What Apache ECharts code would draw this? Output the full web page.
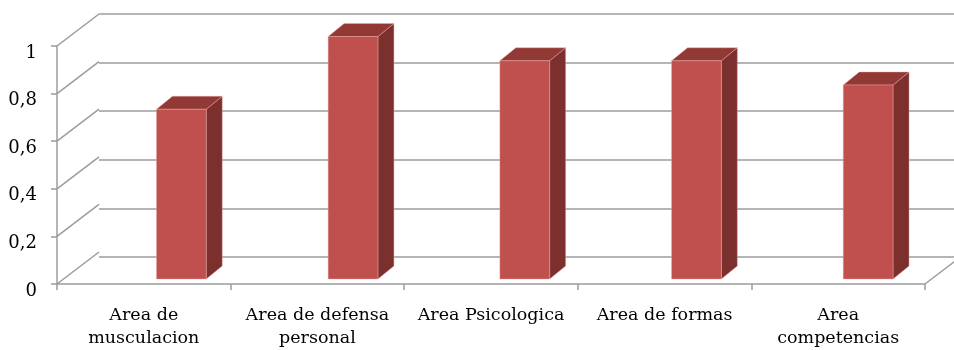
<!DOCTYPE html>
<html>
<head>
<meta charset="utf-8">
<script src="https://cdn.jsdelivr.net/npm/echarts@6/dist/echarts.min.js"></script>
<style>
  html, body { margin: 0; padding: 0; background: #fff; }
  #chart { width: 954px; height: 350px; }
</style>
</head>
<body>
<div id="chart"></div>
<script>
// Categories and values
const categories = [
  'Area de\nmusculacion',
  'Area de defensa\npersonal',
  'Area Psicologica',
  'Area de formas',
  'Area\ncompetencias'
];
const values = [0.7, 1, 0.9, 0.9, 0.8];
const yTicks = [0, 0.2, 0.4, 0.6, 0.8, 1];

// Depth of the back wall and of each box
const WALL_DX = 42, WALL_DY = 32;
const BOX_DX = 16, BOX_DY = 13;
const GRID_COLOR = '#9c9c9c';
const FONT = 'DejaVu Serif';

const chart = echarts.init(document.getElementById('chart'), null, { renderer: 'canvas' });

const option = {
  animation: false,
  backgroundColor: '#ffffff',
  grid: [
    // front plane: axes, labels, floor edge
    { left: 57, top: 46, width: 868, height: 243 },
    // back wall: horizontal gridlines
    { left: 99, top: 14, width: 868, height: 243 },
    // plane in which the boxes stand
    { left: 95.5, top: 36.5, width: 867.5, height: 242.5 }
  ],
  xAxis: [
    {
      gridIndex: 0, type: 'category', data: categories, boundaryGap: true,
      axisLine: { show: true, lineStyle: { color: GRID_COLOR, width: 1.5 } },
      axisTick: { show: true, interval: 0, length: 6, lineStyle: { color: GRID_COLOR, width: 1.5 } },
      axisLabel: {
        interval: 0, margin: 20, color: '#000', fontFamily: FONT, fontSize: 17.5, lineHeight: 23
      }
    },
    { gridIndex: 1, type: 'category', data: categories, show: false },
    { gridIndex: 2, type: 'category', data: categories, show: false }
  ],
  yAxis: [
    {
      gridIndex: 0, type: 'value', min: 0, max: 1, interval: 0.2,
      axisLine: { show: true, lineStyle: { color: GRID_COLOR, width: 1.5 } },
      axisTick: { show: true, length: 6, lineStyle: { color: GRID_COLOR, width: 1.5 } },
      splitLine: { show: false },
      axisLabel: {
        margin: 20, color: '#000', fontFamily: FONT, fontSize: 18,
        verticalAlign: 'top', lineHeight: 14,
        formatter: v => String(Math.round(v * 10) / 10).replace('.', ',')
      }
    },
    {
      gridIndex: 1, type: 'value', min: 0, max: 1, interval: 0.2,
      axisLine: { show: false }, axisTick: { show: false }, axisLabel: { show: false },
      splitLine: { show: true, lineStyle: { color: GRID_COLOR, width: 1.5 } }
    },
    { gridIndex: 2, type: 'value', min: 0, max: 1, show: false, splitLine: { show: false } }
  ],
  series: [
    {
      // side wall and floor diagonals joining front axis to back wall
      type: 'custom',
      xAxisIndex: 0, yAxisIndex: 0,
      silent: true, clip: false, z: 1,
      data: yTicks.map(v => [0, v]),
      renderItem: (params, api) => {
        const cs = params.coordSys;
        const y = api.coord([0, api.value(1)])[1];
        const style = { stroke: GRID_COLOR, lineWidth: 1.5 };
        const children = [{
          type: 'line',
          shape: { x1: cs.x, y1: y, x2: cs.x + WALL_DX, y2: y - WALL_DY },
          style
        }];
        if (api.value(1) === 0) {
          children.push({
            type: 'line',
            shape: { x1: cs.x + cs.width, y1: y, x2: cs.x + cs.width + WALL_DX, y2: y - WALL_DY },
            style
          });
        }
        return { type: 'group', children };
      }
    },
    {
      // 3D boxes
      type: 'custom',
      xAxisIndex: 2, yAxisIndex: 2,
      silent: true, clip: false, z: 3,
      data: values.map((v, i) => [i, v]),
      renderItem: (params, api) => {
        const base = api.coord([api.value(0), 0]);
        const top = api.coord([api.value(0), api.value(1)]);
        const w = api.size([1, 0])[0] * 0.29;
        const x = base[0] - w / 2;
        const yt = top[1], yb = base[1];
        const edge = 'rgba(235,170,168,0.7)';
        return {
          type: 'group',
          children: [
            {
              type: 'polygon',
              shape: { points: [[x + w, yt], [x + w + BOX_DX, yt - BOX_DY], [x + w + BOX_DX, yb - BOX_DY], [x + w, yb]] },
              style: { fill: '#7c302e', stroke: edge, lineWidth: 0.6 }
            },
            {
              type: 'polygon',
              shape: { points: [[x, yt], [x + BOX_DX, yt - BOX_DY], [x + w + BOX_DX, yt - BOX_DY], [x + w, yt]] },
              style: { fill: '#923936', stroke: edge, lineWidth: 0.6 }
            },
            {
              type: 'rect',
              shape: { x, y: yt, width: w, height: yb - yt },
              style: { fill: '#c0504d', stroke: edge, lineWidth: 0.6 }
            }
          ]
        };
      }
    }
  ]
};

chart.setOption(option);
</script>
</body>
</html>
